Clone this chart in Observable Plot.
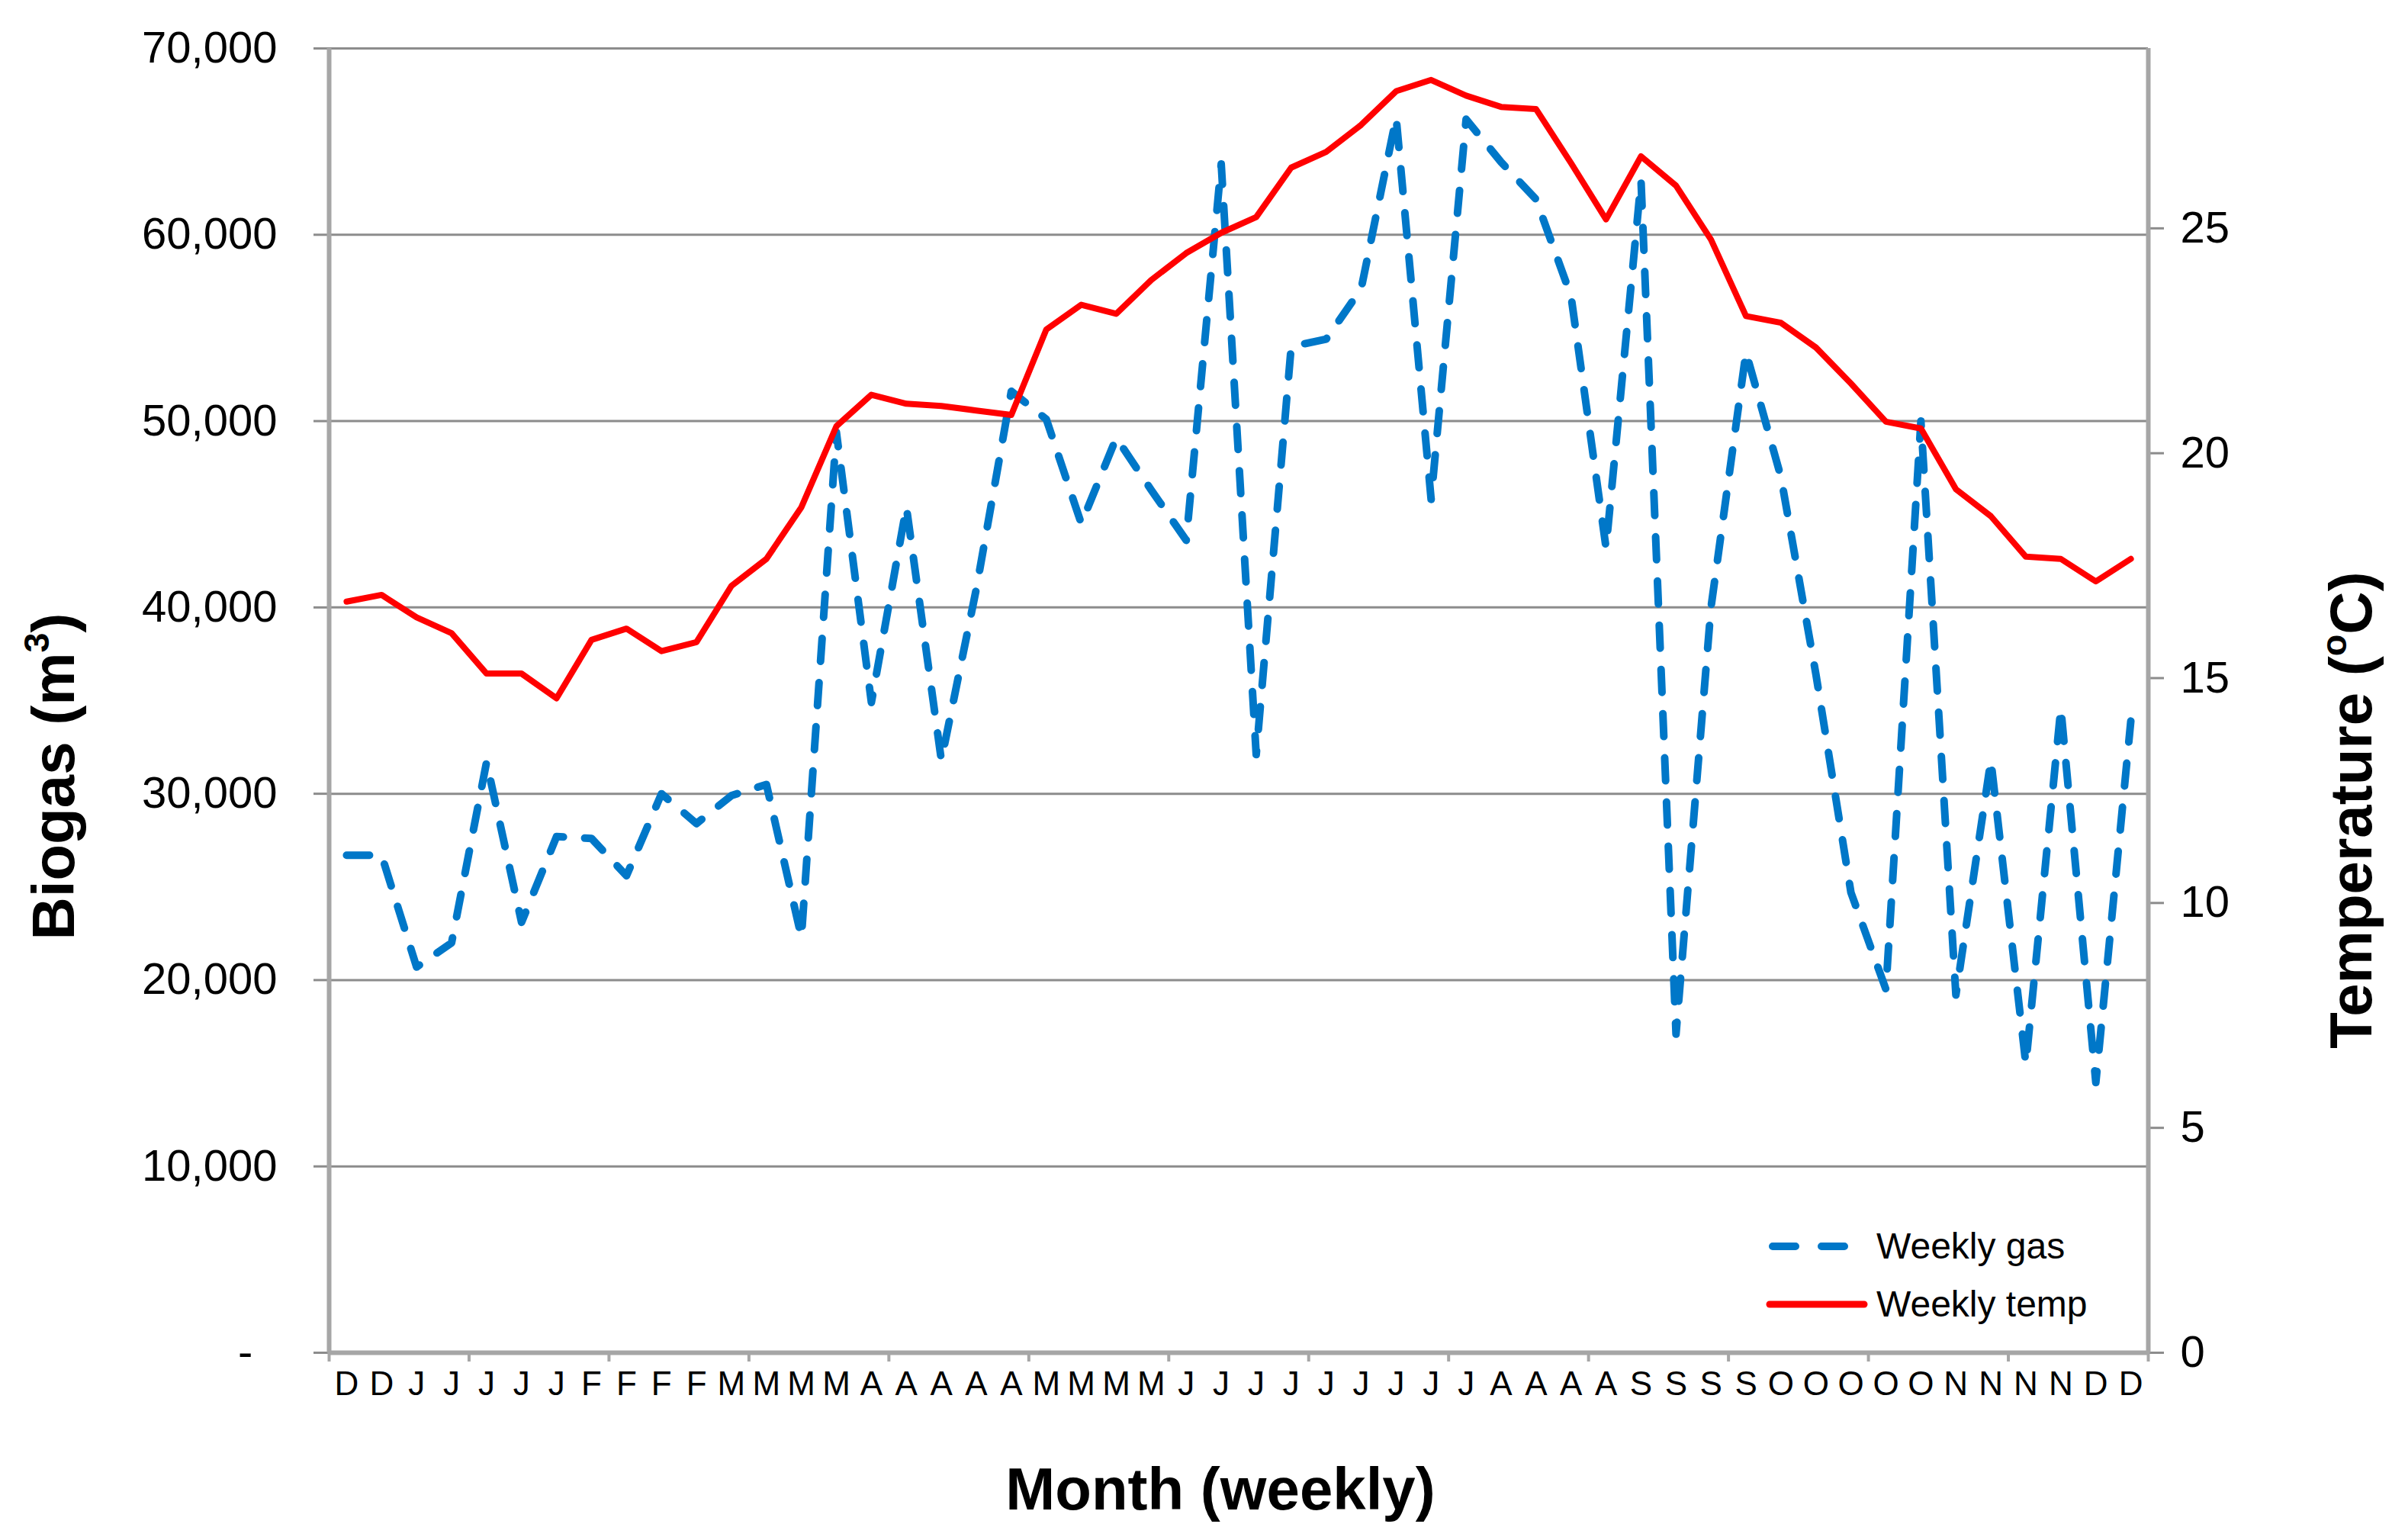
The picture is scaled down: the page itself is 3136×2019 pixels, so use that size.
<!DOCTYPE html>
<html>
<head>
<meta charset="utf-8">
<script src="https://cdn.jsdelivr.net/npm/d3@7"></script>
<script src="https://cdn.jsdelivr.net/npm/@observablehq/plot@0.6"></script>
<style>
  html, body { margin: 0; padding: 0; background: #fff; }
  #wrap { position: relative; width: 3136px; height: 2019px; font-family: "Liberation Sans", Arial, sans-serif; color: #000; }
  #wrap svg { position: absolute; left: 0; top: 0; }
  .title { position: absolute; font-weight: bold; font-size: 78px; white-space: nowrap; line-height: 1; transform: translate(-50%, -50%); }
  .rot { transform: translate(-50%, -50%) rotate(-90deg); }
  .title sup { font-size: 0.6em; vertical-align: 0.7em; line-height: 0; }
  .legend { position: absolute; left: 2310px; top: 1596px; font-size: 48px; line-height: 1; }
  .legend .row { display: flex; align-items: center; height: 76px; }
  .legend svg { position: static !important; margin-right: 8px; }
</style>
</head>
<body>
<div id="wrap"></div>
<script>
// Weekly category labels (first letter of month)
const months = ["D","D","J","J","J","J","J","F","F","F","F","M","M","M","M","A","A","A","A","A",
  "M","M","M","M","J","J","J","J","J","J","J","J","J","A","A","A","A","S","S","S","S",
  "O","O","O","O","O","N","N","N","N","D","D"];

// Weekly biogas (m3)
const gas = [26700,26700,20700,22000,31700,23100,27700,27600,25600,30000,28400,29900,30500,22300,
  49400,34900,45400,31800,41000,51600,50100,44500,49100,46300,43600,63800,32100,54000,54400,
  57100,66300,45800,66200,63900,61900,56700,43200,62900,17100,40000,53700,47000,36400,24700,
  19500,50000,19200,31800,15500,34600,14500,33900];

// Weekly temperature (°C)
const temp = [16.7,16.85,16.35,16.0,15.1,15.1,14.55,15.85,16.1,15.6,15.8,17.05,17.65,18.8,20.6,
  21.3,21.1,21.05,20.95,20.85,22.75,23.3,23.1,23.85,24.45,24.9,25.25,26.35,26.7,27.3,28.05,
  28.3,27.95,27.7,27.65,26.45,25.2,26.6,25.95,24.75,23.05,22.9,22.35,21.55,20.7,20.55,19.2,
  18.6,17.7,17.65,17.15,17.65];

const gasTicks = [0,10000,20000,30000,40000,50000,60000,70000];
const tempTicks = [0,5,10,15,20,25];
const gasMax = 70000, tempMax = 29;
const K = gasMax / tempMax;

const n = months.length;
const idx = d3.range(n);
const gasData = idx.map(i => ({i, v: gas[i]}));
const tempData = idx.map(i => ({i, v: temp[i] * K}));
const bounds = d3.range(-0.5, n, 4);

const axisGray = "#a6a6a6";
const gridGray = "#8c8c8c";
const font = "'Liberation Sans', Arial, sans-serif";

const chart = Plot.plot({
  width: 3136,
  height: 2019,
  marginLeft: 431,
  marginRight: 320,
  marginTop: 63,
  marginBottom: 246,
  style: {fontFamily: font, fontSize: "58px", background: "#fff", color: "#000"},
  x: {type: "linear", domain: [-0.5, n - 0.5]},
  y: {domain: [0, gasMax]},
  marks: [
    Plot.ruleY(gasTicks.slice(1), {stroke: gridGray, strokeWidth: 3}),
    Plot.axisY(gasTicks, {anchor: "left", tickSize: 20, tickPadding: 48, fontSize: 58,
      stroke: gridGray, strokeWidth: 3, fill: "#000", label: null,
      tickFormat: d => d === 0 ? "-\u2007" : d3.format(",")(d)}),
    Plot.axisY(tempTicks.map(t => t * K), {anchor: "right", tickSize: 20, tickPadding: 22, fontSize: 58,
      stroke: gridGray, strokeWidth: 3, fill: "#000", label: null,
      tickFormat: d => String(Math.round(d / K))}),
    Plot.axisX(idx, {anchor: "bottom", tickSize: 0, tickPadding: 24, fontSize: 44, fill: "#000",
      label: null, tickFormat: i => months[i]}),
    Plot.axisX(bounds, {anchor: "bottom", tickSize: 12, stroke: axisGray, strokeWidth: 4,
      label: null, tickFormat: () => ""}),
    Plot.ruleX([-0.5], {stroke: axisGray, strokeWidth: 6}),
    Plot.ruleX([n - 0.5], {stroke: axisGray, strokeWidth: 6}),
    Plot.ruleY([0], {stroke: axisGray, strokeWidth: 6}),
    Plot.line(gasData, {x: "i", y: "v", stroke: "#0077C8", strokeWidth: 10,
      strokeDasharray: "30,28", strokeLinecap: "round", strokeLinejoin: "round"}),
    Plot.line(tempData, {x: "i", y: "v", stroke: "#FF0000", strokeWidth: 8,
      strokeLinejoin: "round", strokeLinecap: "round"})
  ]
});

const wrap = document.getElementById("wrap");
wrap.appendChild(chart);

function addTitle(html, x, y, rotate) {
  const d = document.createElement("div");
  d.className = "title" + (rotate ? " rot" : "");
  d.style.left = x + "px";
  d.style.top = y + "px";
  d.innerHTML = html;
  wrap.appendChild(d);
}
addTitle("Biogas (m<sup>3</sup>)", 70, 1018, true);
addTitle("Temperature (<sup>o</sup>C)", 3082, 1062, true);
addTitle("Month (weekly)", 1600, 1952, false);

// Legend
const legend = document.createElement("div");
legend.className = "legend";
legend.innerHTML = `
  <div class="row"><svg width="142" height="20"><line x1="14" y1="10" x2="128" y2="10" stroke="#0077C8" stroke-width="10" stroke-linecap="round" stroke-dasharray="30,34"/></svg><span>Weekly gas</span></div>
  <div class="row"><svg width="142" height="20"><line x1="10" y1="10" x2="134" y2="10" stroke="#FF0000" stroke-width="9" stroke-linecap="round"/></svg><span>Weekly temp</span></div>`;
wrap.appendChild(legend);
</script>
</body>
</html>
